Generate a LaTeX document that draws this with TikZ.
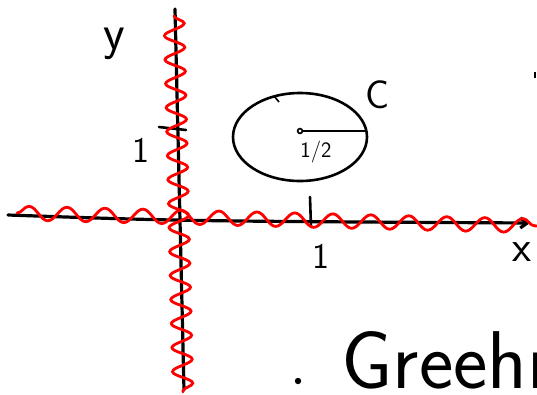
\documentclass[tikz,border=0pt]{standalone}
\usepackage{tikz}
\usetikzlibrary{decorations.pathmorphing,arrows.meta}
\begin{document}
\begin{tikzpicture}[x=1pt,y=-1pt,
    axisline/.style={line width=3.2pt, line cap=round},
    inkline/.style={line width=2.6pt, line cap=round},
    wavyline/.style={red, line width=2.8pt, line cap=round, decorate,
      decoration={snake, amplitude=#1, segment length=38pt}},
    hand/.style={font=\fontsize{#1}{#1}\selectfont\sffamily}]
    % page frame: 537 x 394, y grows downwards
    \useasboundingbox (0,0) rectangle (537,394);
    \clip (0,0) rectangle (537,394);
    % axes
    \coordinate (xstart) at (8,215);
    \coordinate (xmid) at (180,221);
    \coordinate (xend) at (530,223);
    \coordinate (ystart) at (175,9);
    \coordinate (yend) at (184,390);
    \draw[axisline, -{Straight Barb[length=7pt,width=10pt]}]
      (xstart) .. controls (xmid) .. (xend);
    \draw[axisline] (ystart) -- (yend);
    % ticks
    \coordinate (xtick) at (310,197);
    \coordinate (xtickb) at (311,227);
    \coordinate (ytick) at (159,127);
    \coordinate (ytickb) at (186,130);
    \draw[inkline] (xtick) -- (xtickb);
    \draw[inkline] (ytick) -- (ytickb);
    % red wavy curves along the axes
    \coordinate (wxstart) at (17,213);
    \coordinate (wxend) at (540,226);
    \coordinate (wystart) at (174,16);
    \coordinate (wyend) at (183,392);
    \draw[wavyline=7pt] (wxstart) -- (wxend);
    \draw[wavyline=10pt, decoration={segment length=24pt}] (wystart) -- (wyend);
    % circle C of radius 1/2
    \coordinate (ctr) at (300,137);
    \draw[inkline] (ctr) ellipse [x radius=67, y radius=44];
    \coordinate (cdot) at (300,131);
    \coordinate (rad) at (366,131);
    \draw[inkline] (cdot) -- (rad);
    \draw[line width=1.6pt, fill=white] (cdot) circle (2.4pt);
    \coordinate (nick) at (274,96);
    \coordinate (nickb) at (279,102);
    \draw[line width=1.6pt] (nick) -- (nickb);
    % labels
    \node[hand=50] (ylab) at (114,44) {y};
    \node[hand=36] (yone) at (141,150) {1};
    \node[hand=36] (xone) at (321,256) {1};
    \node[hand=44] (xlab) at (522,252) {x};
    \node[hand=40] (clab) at (378,95) {C};
    \node[hand=22] (half) at (316,152) {1/2};
    % stray mark at the right edge
    \coordinate (mark) at (535,72);
    \coordinate (markb) at (535,78);
    \draw[line width=1.5pt] (mark) -- (markb);
    % "Greehn", running off the page
    \coordinate (bullet) at (298,381);
    \fill (bullet) circle (3.2pt);
    \node[hand=82, anchor=base west] (word) at (338,388) {Greehn};
\end{tikzpicture}
\end{document}
